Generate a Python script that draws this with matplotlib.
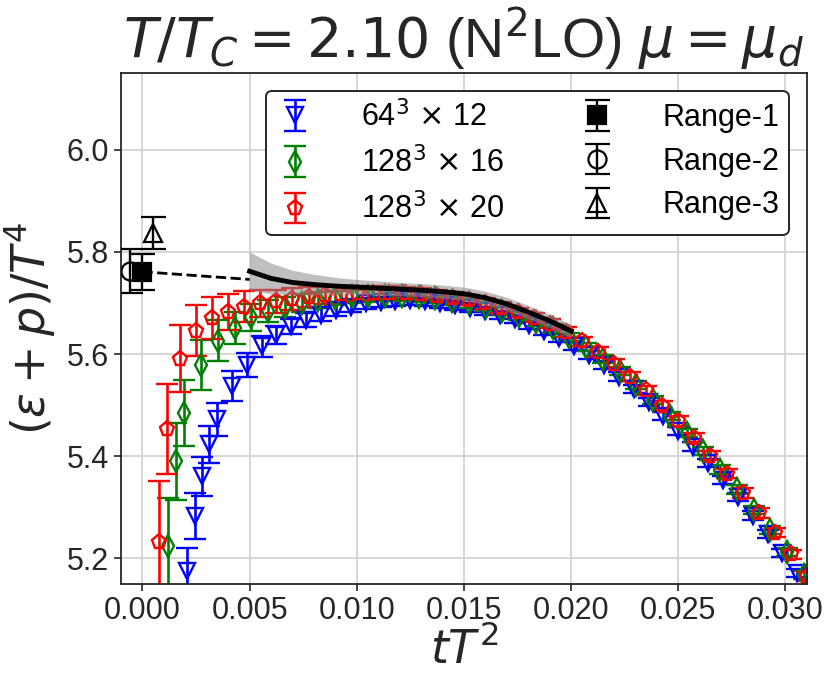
import matplotlib
matplotlib.use("Agg")
import matplotlib.pyplot as plt

plt.rcParams['font.family'] = ['Liberation Sans', 'DejaVu Sans']
plt.rcParams['mathtext.fontset'] = 'dejavusans'

# --- data: tT^2, (e+p)/T^4, error ---
x_12 = [0.002083, 0.002431, 0.002778, 0.003125, 0.003472, 0.004167, 0.004861,
        0.005556, 0.00625, 0.006944, 0.007639, 0.008333, 0.009028, 0.009722,
        0.010417, 0.011111, 0.011806, 0.0125, 0.013194, 0.013889, 0.014583,
        0.015278, 0.015972, 0.016667, 0.017361, 0.018056, 0.01875, 0.019444,
        0.020139, 0.020833, 0.021528, 0.022222, 0.022917, 0.023611, 0.024306,
        0.025, 0.025694, 0.026389, 0.027083, 0.027778, 0.028472, 0.029167,
        0.029861, 0.030556]
y_12 = [5.175, 5.283, 5.361, 5.423, 5.472, 5.537, 5.579, 5.615, 5.637, 5.654,
        5.667, 5.677, 5.686, 5.693, 5.699, 5.702, 5.704, 5.705, 5.703, 5.700,
        5.696, 5.691, 5.685, 5.677, 5.668, 5.657, 5.646, 5.632, 5.616, 5.598,
        5.578, 5.556, 5.532, 5.506, 5.478, 5.450, 5.419, 5.387, 5.354, 5.320,
        5.284, 5.248, 5.210, 5.171]
e_12 = [0.046, 0.045, 0.038, 0.036, 0.033, 0.029, 0.024, 0.020, 0.017, 0.015,
        0.014, 0.013, 0.012, 0.011, 0.011, 0.010, 0.010, 0.009, 0.009, 0.009,
        0.009, 0.008, 0.008, 0.008, 0.008, 0.008, 0.008, 0.008, 0.008, 0.008,
        0.008, 0.008, 0.008, 0.008, 0.008, 0.008, 0.008, 0.008, 0.008, 0.008,
        0.008, 0.008, 0.008, 0.008]

x_16 = [0.001172, 0.001563, 0.001953, 0.002734, 0.003516, 0.004297, 0.005078,
        0.005859, 0.006641, 0.007422, 0.008203, 0.008984, 0.009766, 0.010547,
        0.011328, 0.012109, 0.012891, 0.013672, 0.014453, 0.015234, 0.016016,
        0.016797, 0.017578, 0.018359, 0.019141, 0.019922, 0.020703, 0.021484,
        0.022266, 0.023047, 0.023828, 0.024609, 0.025391, 0.026172, 0.026953,
        0.027734, 0.028516, 0.029297, 0.030078, 0.030859]
y_16 = [5.225, 5.390, 5.485, 5.579, 5.626, 5.651, 5.672, 5.684, 5.692, 5.700,
        5.706, 5.710, 5.713, 5.714, 5.714, 5.714, 5.712, 5.709, 5.704, 5.699,
        5.693, 5.685, 5.675, 5.663, 5.650, 5.633, 5.613, 5.591, 5.566, 5.539,
        5.510, 5.479, 5.446, 5.410, 5.374, 5.335, 5.295, 5.255, 5.212, 5.167]
e_16 = [0.093, 0.076, 0.065, 0.049, 0.040, 0.031, 0.026, 0.022, 0.019, 0.017,
        0.015, 0.014, 0.013, 0.012, 0.011, 0.011, 0.010, 0.010, 0.009, 0.009,
        0.009, 0.008, 0.008, 0.008, 0.008, 0.008, 0.008, 0.008, 0.008, 0.008,
        0.008, 0.008, 0.008, 0.008, 0.008, 0.008, 0.008, 0.008, 0.008, 0.008]

x_20 = [0.00075, 0.001125, 0.00175, 0.0025, 0.00325, 0.004, 0.00475, 0.0055,
        0.00625, 0.007, 0.00775, 0.0085, 0.00925, 0.01, 0.01075, 0.0115,
        0.01225, 0.013, 0.01375, 0.0145, 0.01525, 0.016, 0.01675, 0.0175,
        0.01825, 0.019, 0.01975, 0.0205, 0.02125, 0.022, 0.02275, 0.0235,
        0.02425, 0.025, 0.02575, 0.0265, 0.02725, 0.028, 0.02875, 0.0295,
        0.03025, 0.031]
y_20 = [5.233, 5.454, 5.591, 5.646, 5.671, 5.683, 5.693, 5.699, 5.703, 5.708,
        5.712, 5.715, 5.718, 5.719, 5.720, 5.720, 5.719, 5.717, 5.714, 5.710,
        5.705, 5.699, 5.691, 5.682, 5.671, 5.659, 5.643, 5.625, 5.604, 5.581,
        5.556, 5.529, 5.499, 5.469, 5.436, 5.401, 5.366, 5.328, 5.289, 5.250,
        5.208, 5.165]
e_20 = [0.118, 0.088, 0.065, 0.050, 0.041, 0.035, 0.030, 0.026, 0.023, 0.021,
        0.019, 0.017, 0.016, 0.015, 0.014, 0.013, 0.012, 0.012, 0.011, 0.011,
        0.010, 0.010, 0.010, 0.009, 0.009, 0.009, 0.009, 0.009, 0.009, 0.009,
        0.009, 0.009, 0.009, 0.009, 0.009, 0.009, 0.009, 0.009, 0.009, 0.009,
        0.009, 0.009]

# continuum extrapolations at tT^2 -> 0
range_x = [0.0, -0.0006, 0.0005]
range_y = [5.761, 5.762, 5.837]
range_e = [0.035, 0.043, 0.031]

# fit curve with band
fit_x = [0.005, 0.006, 0.007, 0.008, 0.009, 0.010, 0.011, 0.012, 0.013, 0.014,
         0.015, 0.016, 0.017, 0.018, 0.019, 0.020]
fit_y = [5.762, 5.748, 5.740, 5.736, 5.733, 5.731, 5.729, 5.727, 5.725, 5.722,
         5.718, 5.710, 5.698, 5.682, 5.665, 5.645]
fit_err = [0.038, 0.030, 0.024, 0.020, 0.017, 0.015, 0.014, 0.013, 0.013, 0.013,
           0.013, 0.013, 0.013, 0.013, 0.013, 0.013]
lin_x = [0.0, 0.005]
lin_y = [5.761, 5.746]

fig = plt.figure(figsize=(8.31, 6.82), dpi=100)
ax = fig.add_axes([0.1456, 0.1437, 0.8254, 0.7493])

kw = dict(ls='none', mfc='none', ms=11, mew=1.7, elinewidth=1.9, capsize=8, capthick=1.9)
h12 = ax.errorbar(x_12, y_12, yerr=e_12, fmt='v', color='blue', label=r'64$^3$ $\times$ 12', **kw)
h16 = ax.errorbar(x_16, y_16, yerr=e_16, fmt='d', color='green', label=r'128$^3$ $\times$ 16', **kw)
h20 = ax.errorbar(x_20, y_20, yerr=e_20, fmt='p', color='red', label=r'128$^3$ $\times$ 20', **kw)

lo = [y - e for y, e in zip(fit_y, fit_err)]
hi = [y + e for y, e in zip(fit_y, fit_err)]
ax.fill_between(fit_x, lo, hi, color='#8c8c8c', alpha=0.55, lw=0, zorder=4)
ax.plot(fit_x, fit_y, color='black', lw=3.5, zorder=5)
ax.plot(lin_x, lin_y, color='black', ls='--', lw=2, zorder=5)

rkw = dict(ls='none', color='black', ms=13, mew=1.6, elinewidth=1.7, capsize=9, capthick=1.7, zorder=6)
r1 = ax.errorbar(range_x[0], range_y[0], yerr=range_e[0], fmt='s', mfc='black', label='Range-1', **rkw)
r2 = ax.errorbar(range_x[1], range_y[1], yerr=range_e[1], fmt='o', mfc='none', label='Range-2', **rkw)
r3 = ax.errorbar(range_x[2], range_y[2], yerr=range_e[2], fmt='^', mfc='none', label='Range-3', **rkw)

ax.set_xlim(-0.001, 0.031)
ax.set_ylim(5.15, 6.15)
ax.set_xticks([0.0, 0.005, 0.010, 0.015, 0.020, 0.025, 0.030])
ax.set_yticks([5.2, 5.4, 5.6, 5.8, 6.0])
ax.xaxis.set_major_formatter(matplotlib.ticker.FormatStrFormatter('%.3f'))
ax.yaxis.set_major_formatter(matplotlib.ticker.FormatStrFormatter('%.1f'))
ax.grid(True, color='#d3d3d3', lw=1.3)
ax.set_axisbelow(True)
for s in ax.spines.values():
    s.set_color('#262626')
    s.set_linewidth(1.3)
ax.tick_params(labelsize=22, length=5, width=1.2, color='#262626', labelcolor='#262626')

ax.set_xlabel(r'$tT^2$', fontsize=33, color='#262626', labelpad=1)
ax.set_ylabel(r'$(\varepsilon+p)/T^4$', fontsize=33, color='#262626', labelpad=6)
ax.set_title(r'$T/T_C = 2.10$ (N$^2$LO) $\mu = \mu_d$', fontsize=40, color='#262626', pad=6)

leg = ax.legend(handles=[h12, h16, h20, r1, r2, r3], ncol=2, loc='upper right',
                fontsize=22, frameon=True, framealpha=1, edgecolor='#262626',
                handlelength=1.3, handletextpad=1.5, columnspacing=2.4,
                borderpad=0.3, labelspacing=0.45, borderaxespad=0.6)
leg.get_frame().set_linewidth(1.4)

fig.savefig('out.png', dpi=100)
